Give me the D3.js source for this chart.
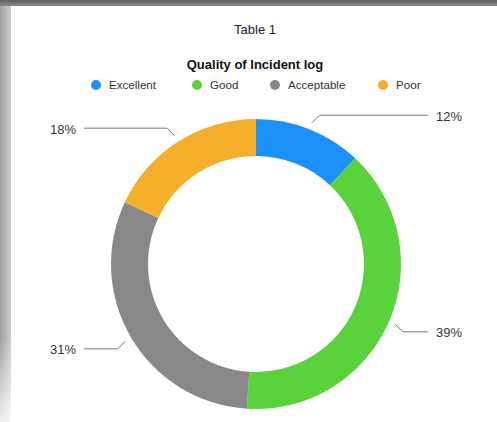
<!DOCTYPE html>
<html>
<head>
<meta charset="utf-8">
<script src="https://cdn.jsdelivr.net/npm/d3@7"></script>
<style>
  html, body { margin: 0; padding: 0; background: #fff; }
  svg { display: block; font-family: "Liberation Sans", Arial, Helvetica, sans-serif; }
</style>
</head>
<body>
<div id="chart"></div>
<script>
// chart data
var categories = ['Excellent', 'Good', 'Acceptable', 'Poor']
var values = [12, 39, 31, 18]
var colors = ['#1b90f9', '#5ad23c', '#888888', '#f4b02a']
var titleText = 'Table 1'
var subtitleText = 'Quality of Incident log'

var width = 497
var height = 422
var cx = 256
var cy = 264
var outerR = 145
var innerR = 108

var svg = d3.select('#chart')
  .append('svg')
  .attr('width', width)
  .attr('height', height)

// the grey frame/shadow round the card
var defs = svg.append('defs')
var gTop = defs.append('linearGradient').attr('id', 'shTop')
  .attr('x1', 0).attr('y1', 0).attr('x2', 0).attr('y2', 1)
gTop.append('stop').attr('offset', '0%').attr('stop-color', '#5e5e5e')
gTop.append('stop').attr('offset', '100%').attr('stop-color', '#8a8a8a')
var gLeft = defs.append('linearGradient').attr('id', 'shLeft')
  .attr('x1', 0).attr('y1', 0).attr('x2', 1).attr('y2', 0)
gLeft.append('stop').attr('offset', '0%').attr('stop-color', '#a0a0a0')
gLeft.append('stop').attr('offset', '100%').attr('stop-color', '#cfcfcf')
var gFade = defs.append('linearGradient').attr('id', 'shFade')
  .attr('x1', 0).attr('y1', 0).attr('x2', 0).attr('y2', 1)
gFade.append('stop').attr('offset', '0%').attr('stop-color', '#fff').attr('stop-opacity', 0)
gFade.append('stop').attr('offset', '100%').attr('stop-color', '#fff').attr('stop-opacity', 0.85)

svg.append('rect').attr('x', 0).attr('y', 0).attr('width', 11).attr('height', height).attr('fill', 'url(#shLeft)')
svg.append('rect').attr('x', 0).attr('y', 340).attr('width', 11).attr('height', 82).attr('fill', 'url(#shFade)')
svg.append('rect').attr('x', 0).attr('y', 0).attr('width', width).attr('height', 6).attr('fill', 'url(#shTop)')

// titles
svg.append('text')
  .attr('x', 255).attr('y', 34)
  .attr('text-anchor', 'middle')
  .attr('font-size', 13)
  .attr('fill', '#222')
  .text(titleText)

svg.append('text')
  .attr('x', 255).attr('y', 69)
  .attr('text-anchor', 'middle')
  .attr('font-size', 13)
  .attr('font-weight', 'bold')
  .attr('fill', '#111')
  .text(subtitleText)

// legend
var legendX = [96, 197, 275, 383]
var legend = svg.append('g').selectAll('g')
  .data(categories)
  .enter()
  .append('g')
  .attr('transform', function(d, i) { return 'translate(' + legendX[i] + ',85)' })
legend.append('circle')
  .attr('r', 5)
  .attr('fill', function(d, i) { return colors[i] })
legend.append('text')
  .attr('x', 13).attr('y', 4)
  .attr('font-size', 11.6)
  .attr('fill', '#333')
  .text(function(d) { return d })

// donut
var pie = d3.pie().sort(null).value(function(d) { return d })
var arcs = pie(values)
var arc = d3.arc().innerRadius(innerR).outerRadius(outerR)

var g = svg.append('g').attr('transform', 'translate(' + cx + ',' + cy + ')')
g.selectAll('path')
  .data(arcs)
  .enter()
  .append('path')
  .attr('d', arc)
  .attr('fill', function(d, i) { return colors[i] })

// leader lines + labels: short 45deg kink, then horizontal
var startArc = d3.arc().innerRadius(152).outerRadius(152)
var kink = 7.5
var lineEnd = 172
var labelOff = 180

arcs.forEach(function(d, i) {
  var p1 = startArc.centroid(d)
  var right = p1[0] > 0
  var down = p1[1] > 0
  var p2 = [p1[0] + (right ? kink : -kink), p1[1] + (down ? kink : -kink)]
  var p3 = [right ? lineEnd : -lineEnd, p2[1]]
  g.append('polyline')
    .attr('points', [p1, p2, p3].map(function(p) { return p.join(',') }).join(' '))
    .attr('fill', 'none')
    .attr('stroke', '#777')
    .attr('stroke-width', 1)
  g.append('text')
    .attr('x', right ? labelOff : -labelOff)
    .attr('y', p2[1] + 5.5)
    .attr('text-anchor', right ? 'start' : 'end')
    .attr('font-size', 13)
    .attr('fill', '#333')
    .text(values[i] + '%')
})
</script>
</body>
</html>
